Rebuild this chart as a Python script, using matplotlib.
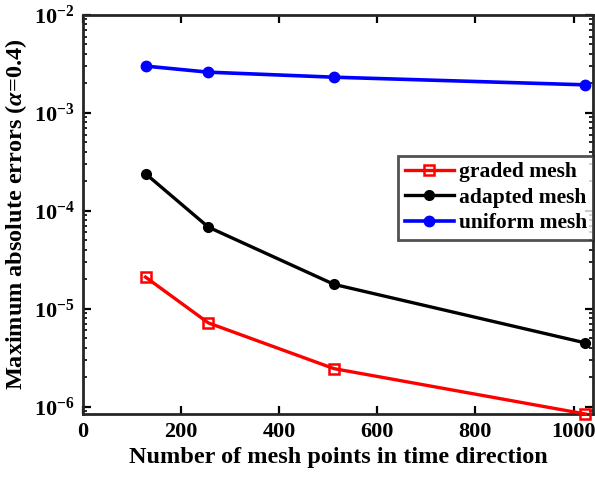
import matplotlib
matplotlib.use("Agg")
import matplotlib.pyplot as plt
from matplotlib.ticker import LogLocator, FixedLocator

plt.rcParams['font.family'] = ['Liberation Serif', 'DejaVu Serif']
plt.rcParams['font.weight'] = 'bold'
plt.rcParams['mathtext.fontset'] = 'custom'
plt.rcParams['mathtext.rm'] = 'Liberation Serif:bold'
plt.rcParams['mathtext.bf'] = 'Liberation Serif:bold'
plt.rcParams['mathtext.it'] = 'Liberation Serif:italic:bold'

# mesh sizes in time direction
n_points = [128, 256, 512, 1024]

# maximum absolute errors for alpha = 0.4
err_graded = [2.1e-5, 7.15e-6, 2.44e-6, 8.4e-7]
err_adapted = [2.39e-4, 6.8e-5, 1.77e-5, 4.47e-6]
err_uniform = [3.0e-3, 2.6e-3, 2.31e-3, 1.93e-3]

x_ticks = [0, 200, 400, 600, 800, 1000]
y_ticks = [1e-6, 1e-5, 1e-4, 1e-3, 1e-2]
y_tick_labels = [r'$10^{-6}$', r'$10^{-5}$', r'$10^{-4}$', r'$10^{-3}$', r'$10^{-2}$']

fig = plt.figure(figsize=(5.95, 4.8), dpi=100)
ax = fig.add_axes([0.139, 0.1375, 0.858, 0.8315])

ax.plot(n_points, err_graded, color='red', lw=2.4, marker='s', ms=7.5,
        mfc='none', mec='red', mew=1.8, label='graded mesh', clip_on=False, zorder=3)
ax.plot(n_points, err_adapted, color='black', lw=2.4, marker='o', ms=7,
        label='adapted mesh', clip_on=False, zorder=3)
ax.plot(n_points, err_uniform, color='blue', lw=2.6, marker='o', ms=7.5,
        label='uniform mesh', clip_on=False, zorder=3)

ax.set_yscale('log')
ax.set_xlim(0, 1040)
ax.set_ylim(8.4e-7, 1e-2)
ax.xaxis.set_major_locator(FixedLocator(x_ticks))
ax.set_yticks(y_ticks)
ax.set_yticklabels(y_tick_labels)
ax.yaxis.set_minor_locator(LogLocator(base=10, subs=range(2, 10), numticks=20))

ax.tick_params(which='both', direction='in', top=True, right=True,
               labelsize=16, width=1.6, pad=6)
ax.tick_params(which='major', length=6)
ax.tick_params(which='minor', length=3, width=1.2)
for lab in ax.get_xticklabels() + ax.get_yticklabels():
    lab.set_fontweight('bold')

for sp in ax.spines.values():
    sp.set_linewidth(2)
    sp.set_color('#262626')

ax.set_xlabel('Number of mesh points in time direction', fontsize=17.5,
              fontweight='bold', labelpad=3)
ax.set_ylabel(r'Maximum absolute errors ($\alpha$=0.4)', fontsize=17.5,
              fontweight='bold', labelpad=3)

leg = ax.legend(loc='upper right', bbox_to_anchor=(1.0, 0.647), fontsize=15.5,
                frameon=True, fancybox=False, borderpad=0.3, labelspacing=0.25,
                handlelength=2.3, handletextpad=0.2, borderaxespad=0)
leg.get_frame().set_edgecolor('#262626')
leg.get_frame().set_linewidth(2)

fig.savefig('out.png', dpi=100)
